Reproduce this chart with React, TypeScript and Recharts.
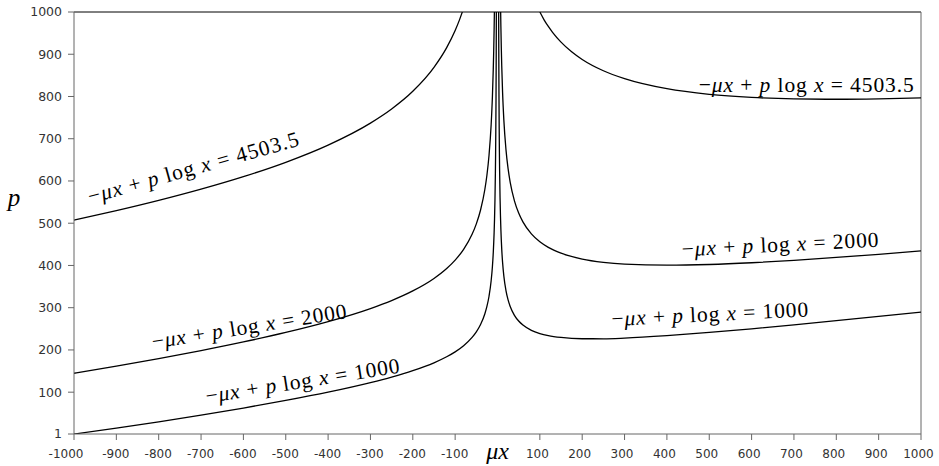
import React from 'react';
import {
  LineChart, Line, XAxis, YAxis, ReferenceLine, ReferenceDot,
} from 'recharts';

// level curves, [mu*x, p]
const leftHigh: [number, number][] = [
  [-1000, 507.2], [-900, 529.7], [-800, 554.0], [-700, 580.6], [-600, 610.2], [-500, 644.2],
  [-400, 684.9], [-300, 737.0], [-250, 770.4], [-200, 812.2], [-150, 868.9], [-120, 915.6],
  [-100, 956.2], [-90, 980.8], [-83, 1000],
];
const leftMid: [number, number][] = [
  [-1000, 144.8], [-900, 161.7], [-800, 179.5], [-700, 198.4], [-600, 218.9], [-500, 241.4],
  [-400, 267.0], [-300, 298.0], [-250, 316.9], [-200, 339.7], [-150, 369.2], [-120, 392.7],
  [-100, 412.6], [-80, 438.2], [-60, 473.8], [-50, 498.5], [-40, 531.3], [-30, 579.2],
  [-25, 613.6], [-20, 660.9], [-15, 733.0], [-12, 800.0], [-10, 864.2], [-9, 906.1],
  [-8, 958.0], [-7.35, 1000],
];
const leftLow: [number, number][] = [
  [-1000, 1], [-900, 14.7], [-800, 29.9], [-700, 45.8], [-600, 62.5], [-500, 80.5],
  [-400, 100.1], [-300, 122.7], [-250, 135.8], [-200, 151.0], [-150, 169.6], [-120, 183.8],
  [-100, 195.4], [-80, 210.0], [-60, 229.6], [-50, 242.8], [-40, 260.2], [-30, 285.2],
  [-25, 302.9], [-20, 327.1], [-15, 363.7], [-12, 397.6], [-10, 430.0], [-8, 477.1],
  [-7, 510.3], [-6, 554.8], [-5, 618.2], [-4.5, 661.9], [-4, 718.5], [-3.5, 795.4],
  [-3, 907.5], [-2.8, 968.5], [-2.71, 1000],
];
const rightHigh: [number, number][] = [
  [100, 1000], [110, 981.5], [120, 965.7], [130, 951.9], [150, 928.7], [175, 905.8],
  [200, 887.7], [250, 860.9], [300, 842.2], [400, 818.4], [500, 805.1], [600, 797.8],
  [700, 794.3], [800, 793.4], [900, 794.4], [1000, 796.7],
];
const rightMid: [number, number][] = [
  [7.45, 1000], [8, 965.7], [9, 914.3], [10, 872.9], [12, 809.7], [15, 744.1], [20, 674.3],
  [25, 629.1], [30, 596.8], [40, 553.0], [50, 524.0], [60, 503.1], [80, 474.7], [100, 456.0],
  [120, 442.8], [150, 429.1], [200, 415.2], [250, 407.5], [300, 403.2], [400, 400.6],
  [500, 402.3], [600, 406.4], [700, 412.1], [800, 418.9], [900, 426.3], [1000, 434.3],
];
const rightLow: [number, number][] = [
  [2.72, 1000], [2.8, 974.0], [3, 913.0], [3.5, 801.0], [4, 724.2], [4.5, 667.8], [5, 624.5],
  [6, 561.4], [7, 517.5], [8, 484.8], [10, 438.6], [12, 407.3], [15, 374.8], [20, 340.5],
  [25, 318.4], [30, 302.8], [40, 281.9], [50, 268.4], [60, 258.9], [80, 246.5], [100, 238.9],
  [120, 233.9], [150, 229.5], [200, 226.5], [250, 226.4], [300, 227.9], [400, 233.7],
  [500, 241.4], [600, 250.1], [700, 259.5], [800, 269.3], [900, 279.3], [1000, 289.5],
];

const xTicks = [-1000, -900, -800, -700, -600, -500, -400, -300, -200, -100,
  100, 200, 300, 400, 500, 600, 700, 800, 900, 1000];
const yTicks = [1, 100, 200, 300, 400, 500, 600, 700, 800, 900, 1000];

// curve labels: level value, anchor point (mu*x, p), angle, text length
const labelLevels = ['4503.5', '2000', '1000', '4503.5', '2000', '1000'];
const labelX = [-714, -584, -458, 729, 668, 502];
const labelP = [615, 239, 110, 811, 433, 268];
const labelAngle = [-15.5, -9, -9, 0, -2.8, -2.8];
const labelWidth = [218, 197, 196, 215, 197, 197];

const curves = [leftHigh, leftMid, leftLow, rightHigh, rightMid, rightLow]
  .map((c) => c.map(([x, y]) => ({ x, y })));

const serif = "'Liberation Serif', 'DejaVu Serif', serif";

const CurveLabel = ({ viewBox, i }: any) => {
  const x = viewBox.x + (viewBox.width || 0) / 2;
  const y = viewBox.y + (viewBox.height || 0) / 2;
  return (
    <text
      x={x} y={y}
      transform={`rotate(${labelAngle[i]} ${x} ${y})`}
      textAnchor="middle"
      fill="#000"
      textLength={labelWidth[i]}
      lengthAdjust="spacing"
      style={{ whiteSpace: 'pre', fontFamily: serif, fontSize: 21.5 }}
    >
      <tspan>{'\u2212'}</tspan>
      <tspan fontStyle="italic">{'\u03bcx'}</tspan>
      <tspan>{' + '}</tspan>
      <tspan fontStyle="italic">p</tspan>
      <tspan>{' log '}</tspan>
      <tspan fontStyle="italic">x</tspan>
      <tspan>{` = ${labelLevels[i]}`}</tspan>
    </text>
  );
};

// the reference nudges its x tick labels slightly left
const XTick = ({ x, y, payload }: any) => {
  const v = payload.value;
  const dx = v === -1000 ? -8 : v > 0 ? -2.5 : -0.5;
  return (
    <text x={x + dx} y={y} dy="0.71em" textAnchor="middle" fill="#333" fontSize={12}>
      {v}
    </text>
  );
};

export default function App() {
  return (
    <div>
      <style>{'body{margin:0}'}</style>
      <LineChart
        width={939}
        height={466}
        margin={{ top: 12, right: 18, left: 14, bottom: 2 }}
        style={{ fontFamily: "'DejaVu Sans', sans-serif" }}
      >
        <XAxis
          dataKey="x"
          type="number"
          domain={[-1000, 1000]}
          ticks={xTicks}
          allowDataOverflow
          height={30}
          stroke="#666"
          tickMargin={9}
          tick={<XTick />}
          label={{
            content: ({ viewBox }: any) => (
              <text
                x={viewBox.x + viewBox.width / 2}
                y={viewBox.y + 25}
                textAnchor="middle"
                fill="#000"
                style={{ fontFamily: serif, fontStyle: 'italic', fontSize: 24 }}
              >
                {'\u03bcx'}
              </text>
            ),
          }}
        />
        <YAxis
          type="number"
          domain={[1, 1000]}
          ticks={yTicks}
          allowDataOverflow
          width={60}
          stroke="#666"
          tickMargin={6}
          tick={{ fill: '#333', fontSize: 12.5 }}
          label={{
            content: ({ viewBox }: any) => (
              <text
                x={viewBox.x}
                y={viewBox.y + viewBox.height / 2 - 17}
                textAnchor="middle"
                fill="#000"
                style={{ fontFamily: serif, fontStyle: 'italic', fontSize: 25 }}
              >
                p
              </text>
            ),
          }}
        />
        <ReferenceLine y={1000} stroke="#000" strokeWidth={1} />
        <ReferenceLine x={1000} stroke="#666" strokeWidth={1} />
        {curves.map((d, i) => (
          <Line
            key={i}
            data={d}
            dataKey="y"
            type="monotone"
            stroke="#000"
            strokeWidth={1.3}
            dot={false}
            activeDot={false}
            isAnimationActive={false}
          />
        ))}
        {labelLevels.map((_, i) => (
          <ReferenceDot
            key={`l${i}`}
            x={labelX[i]}
            y={labelP[i]}
            r={0}
            fill="none"
            stroke="none"
            label={(props: any) => <CurveLabel {...props} i={i} />}
          />
        ))}
      </LineChart>
    </div>
  );
}
